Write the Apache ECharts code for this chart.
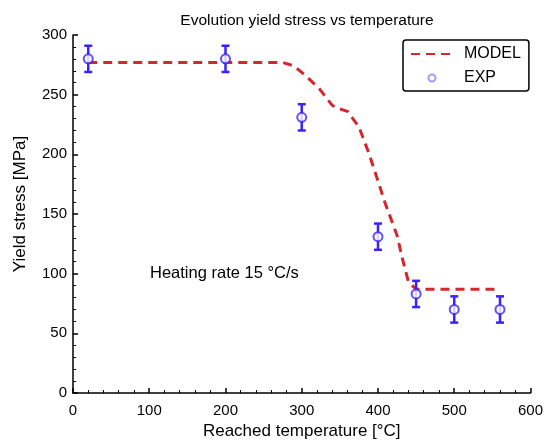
<!DOCTYPE html>
<html>
<head>
<meta charset="utf-8">
<script src="https://cdn.jsdelivr.net/npm/echarts@6/dist/echarts.min.js"></script>
<style>
html,body{margin:0;padding:0;background:#fff;}
#chart{width:546px;height:445px;}
</style>
</head>
<body>
<div id="chart"></div>
<script>
// Experimental measurements: temperature, yield stress, half error
var expTemp = [20, 200, 300, 400, 450, 500, 560];
var expStress = [280, 280, 231, 131, 83, 70, 70];
var expErr = [11, 11, 11, 11, 11, 11, 11];

// Model curve
var modelTemp = [20, 275, 290, 305, 323, 340, 350, 360, 375, 388, 410, 425, 433, 440, 450, 560];
var modelStress = [277, 277, 274, 266, 255, 241, 238, 236, 223, 201, 158, 132, 110, 93, 87, 87];

var xTicks = [0, 100, 200, 300, 400, 500, 600];
var yTicks = [0, 50, 100, 150, 200, 250, 300];

var FONT = 'Liberation Sans, Arial, sans-serif';
var BLUE = '#3a22ff';
var LIGHT_BLUE = '#8f80ff';
var RED = '#d6262c';

var modelData = modelTemp.map(function (t, i) { return [t, modelStress[i]]; });
var expData = expTemp.map(function (t, i) { return [t, expStress[i]]; });
var errData = expTemp.map(function (t, i) { return [t, expStress[i] - expErr[i], expStress[i] + expErr[i]]; });

var chart = echarts.init(document.getElementById('chart'));
chart.setOption({
  animation: false,
  backgroundColor: '#fff',
  title: {
    text: 'Evolution yield stress vs temperature',
    left: 302, top: 8, textAlign: 'center',
    textStyle: { fontFamily: FONT, fontSize: 15.5, fontWeight: 'normal', color: '#000' }
  },
  grid: { left: 73, right: 13, top: 35, bottom: 52 },
  legend: {
    data: [
      { name: 'MODEL', itemStyle: { opacity: 0 } },
      { name: 'EXP', icon: 'emptyCircle', itemStyle: { color: LIGHT_BLUE, borderColor: LIGHT_BLUE, borderWidth: 2 } }
    ],
    orient: 'vertical',
    left: 403, top: 40,
    itemWidth: 42, itemHeight: 7, itemGap: 8,
    padding: [6, 8, 5, 7],
    borderColor: '#000', borderWidth: 1.5, borderRadius: 3,
    backgroundColor: '#fff',
    textStyle: { fontFamily: FONT, fontSize: 16, color: '#000', padding: [0, 0, 0, 6] }
  },
  xAxis: {
    type: 'value', min: 0, max: 600, interval: 100,
    name: 'Reached temperature [°C]', nameLocation: 'middle', nameGap: 30,
    nameTextStyle: { fontFamily: FONT, fontSize: 17, color: '#000' },
    axisLine: { onZero: false, lineStyle: { color: '#000', width: 1.5 } },
    axisTick: { inside: true, length: 5, lineStyle: { color: '#000', width: 1.5 } },
    minorTick: { show: true, splitNumber: 5, length: 3, lineStyle: { color: '#000', width: 1 } },
    axisLabel: { fontFamily: FONT, fontSize: 15, color: '#000', margin: 10 },
    splitLine: { show: false }
  },
  yAxis: {
    type: 'value', min: 0, max: 300, interval: 50,
    name: 'Yield stress [MPa]', nameLocation: 'middle', nameGap: 44,
    nameTextStyle: { fontFamily: FONT, fontSize: 17, color: '#000', padding: [0, 0, 0, 20] },
    axisLine: { show: true, onZero: false, lineStyle: { color: '#000', width: 1.5 } },
    axisTick: { show: true, inside: true, length: 5, lineStyle: { color: '#000', width: 1.5 } },
    minorTick: { show: true, splitNumber: 5, length: 3, lineStyle: { color: '#000', width: 1 } },
    axisLabel: { fontFamily: FONT, fontSize: 15, color: '#000', margin: 6 },
    splitLine: { show: false }
  },
  graphic: [{
    type: 'text', left: 150, top: 265,
    style: { text: 'Heating rate 15 °C/s', font: '16.5px ' + FONT, fill: '#000' }
  }],
  series: [
    {
      name: 'MODEL', type: 'line', data: modelData,
      symbol: 'none', smooth: false,
      lineStyle: { color: RED, width: 3, type: [9, 6] },
      itemStyle: { color: RED },
      z: 2
    },
    {
      name: 'errorbars', type: 'custom', data: errData,
      renderItem: function (params, api) {
        var x = api.value(0);
        var lo = api.coord([x, api.value(1)]);
        var hi = api.coord([x, api.value(2)]);
        var w = 4;
        var st = { stroke: BLUE, lineWidth: 2.5 };
        return {
          type: 'group',
          children: [
            { type: 'line', shape: { x1: lo[0], y1: lo[1], x2: hi[0], y2: hi[1] }, style: st },
            { type: 'line', shape: { x1: lo[0] - w, y1: lo[1], x2: lo[0] + w, y2: lo[1] }, style: st },
            { type: 'line', shape: { x1: hi[0] - w, y1: hi[1], x2: hi[0] + w, y2: hi[1] }, style: st }
          ]
        };
      },
      z: 3
    },
    {
      name: 'EXP', type: 'scatter', data: expData,
      symbol: 'emptyCircle', symbolSize: 9,
      itemStyle: { color: BLUE, borderColor: BLUE, borderWidth: 2.5 },
      z: 4
    }
  ]
});
</script>
</body>
</html>
